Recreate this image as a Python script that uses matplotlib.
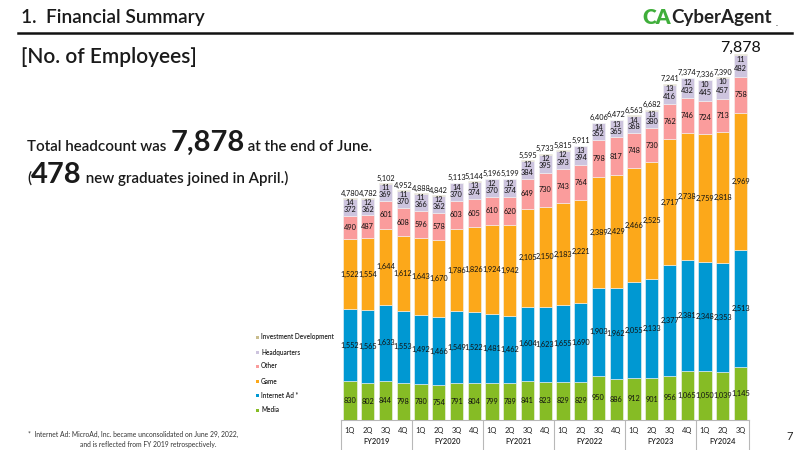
import matplotlib
matplotlib.use("Agg")
import matplotlib.pyplot as plt
import matplotlib.transforms as mtransforms
import numpy as np

plt.rcParams['font.family'] = ['Lato', 'DejaVu Sans']

quarters = ["1Q", "2Q", "3Q", "4Q"] * 5 + ["1Q", "2Q", "3Q"]
fiscal_years = ["FY2019", "FY2020", "FY2021", "FY2022", "FY2023", "FY2024"]
fy_counts = [4, 4, 4, 4, 4, 3]

media = [830, 802, 844, 798, 780, 754, 791, 804, 799, 789, 841, 823, 829, 829, 950, 886, 912, 901, 956, 1065, 1050, 1039, 1145]
internet_ad = [1552, 1565, 1633, 1553, 1492, 1466, 1549, 1522, 1481, 1462, 1604, 1623, 1655, 1690, 1903, 1962, 2055, 2133, 2377, 2381, 2348, 2353, 2513]
game = [1522, 1554, 1644, 1612, 1643, 1670, 1786, 1826, 1924, 1942, 2105, 2150, 2183, 2221, 2389, 2429, 2466, 2525, 2717, 2738, 2759, 2818, 2969]
other = [490, 487, 601, 608, 596, 578, 603, 605, 610, 620, 649, 730, 743, 764, 798, 817, 748, 730, 762, 746, 724, 713, 758]
headquarters = [372, 362, 369, 370, 366, 362, 370, 374, 370, 374, 384, 395, 393, 394, 352, 365, 368, 380, 416, 432, 445, 457, 482]
investment = [14, 12, 11, 11, 11, 12, 14, 13, 12, 12, 12, 12, 12, 13, 14, 13, 14, 13, 13, 12, 10, 10, 11]
totals = [4780, 4782, 5102, 4952, 4888, 4842, 5113, 5144, 5196, 5199, 5595, 5733, 5815, 5911, 6406, 6472, 6563, 6682, 7241, 7374, 7336, 7390, 7878]

series = [
    ("Media", media, "#86bc25"),
    ("Internet Ad\u202f*", internet_ad, "#0098d2"),
    ("Game", game, "#fca81a"),
    ("Other", other, "#fa9c9c"),
    ("Headquarters", headquarters, "#cdc4de"),
    ("Investment Development", investment, "#c9bd8e"),
]

W, H = 800, 450
fig = plt.figure(figsize=(8, 4.5), dpi=100)
fig.patch.set_facecolor("white")

def fx(px):
    return px / W

def fy(py):
    return 1 - py / H

LBL = 5.3

# ---- chart axes ----
ax_left, ax_right, ax_top, ax_bottom = 330, 760, 40, 420
ax = fig.add_axes([fx(ax_left), fy(ax_bottom), (ax_right - ax_left) / W, (ax_bottom - ax_top) / H])
n = len(totals)
x = np.arange(n)
px_per_unit = 17.75
ax.set_xlim(-(350 - ax_left) / px_per_unit, (n - 1) + (ax_right - 350 - (n - 1) * px_per_unit) / px_per_unit)
ax.set_ylim(0, 8190)
ax.axis("off")

bottom = np.zeros(n)
for name, vals, col in series:
    v = np.array(vals, dtype=float)
    ax.bar(x, v, bottom=bottom, width=0.75, color=col, edgecolor="#f4f4f4", linewidth=0.4, zorder=2)
    if name not in ("Investment Development", "Headquarters"):
        for i in range(n):
            ax.text(x[i], bottom[i] + v[i] / 2, f"{int(v[i]):,}", ha="center", va="center",
                    fontsize=LBL, color="#111111", zorder=5)
    elif name == "Headquarters":
        for i in range(n):
            ax.annotate(f"{int(v[i]):,}", (x[i], bottom[i] + v[i] / 2), xytext=(0, -1.6),
                        textcoords="offset points", ha="center", va="center",
                        fontsize=LBL, color="#111111", zorder=5)
    bottom = bottom + v

top = bottom
for i in range(n):
    ax.annotate(f"{investment[i]:,}", (x[i], top[i]), xytext=(0, -3.3), textcoords="offset points",
                ha="center", va="center", fontsize=LBL, color="#111111", zorder=5)
    if i == n - 1:
        ax.annotate(f"{totals[i]:,}", (x[i], top[i]), xytext=(0, 4.4), textcoords="offset points",
                    ha="center", va="center", fontsize=11.5, color="#111111", zorder=5)
    else:
        ax.annotate(f"{totals[i]:,}", (x[i], top[i]), xytext=(0, 3.7), textcoords="offset points",
                    ha="center", va="center", fontsize=LBL, color="#111111", zorder=5)

# ---- category axis box ----
trans = mtransforms.blended_transform_factory(ax.transData, ax.transAxes)
ax_h = ax_bottom - ax_top
def ay(py):
    return (ax_bottom - py) / ax_h

line_col = "#b8b8b8"
ax.plot([-0.5, n - 0.5], [0, 0], transform=trans, color=line_col, lw=0.8, clip_on=False, zorder=1)
edges = [-0.5]
pos = -0.5
for c in fy_counts:
    pos += c
    edges.append(pos)
for e in edges:
    ax.plot([e, e], [0, ay(452)], transform=trans, color=line_col, lw=0.8, clip_on=False)
for i, q in enumerate(quarters):
    ax.text(x[i], ay(431), q, transform=trans, ha="center", va="center", fontsize=5.4, color="#222222")
for k, fyname in enumerate(fiscal_years):
    c = (edges[k] + edges[k + 1]) / 2
    ax.text(c, ay(442), fyname, transform=trans, ha="center", va="center", fontsize=5.4,
            color="#222222", fontweight="semibold")

# ---- legend ----
legend_y = [337, 352, 366, 381, 395, 410]
legend_order = list(reversed(series))
for (name, vals, col), yy in zip(legend_order, legend_y):
    fig.patches.append(plt.Rectangle((fx(256), fy(yy) - 1.5 / H), 3 / W, 3 / H, transform=fig.transFigure,
                                     facecolor=col, edgecolor="none"))
    fig.text(fx(261), fy(yy), name, ha="left", va="center", fontsize=4.7, color="#222222",
             fontweight="semibold")

# ---- header ----
fig.text(fx(21), fy(18), "1.  Financial Summary", ha="left", va="center", fontsize=13.8,
         color="#1a1a1a", fontweight="semibold")
fig.add_artist(plt.Line2D([fx(18), fx(792)], [fy(33), fy(33)], color="#111111", lw=1.8))
fig.text(fx(21), fy(57), "[No. of Employees]", ha="left", va="center", fontsize=15,
         color="#1a1a1a", fontweight="semibold")

# logo
fig.text(fx(642), fy(18), "CA", ha="left", va="center", fontsize=15, color="#3fae3a",
         fontweight="heavy")
fig.text(fx(671), fy(18), "CyberAgent", ha="left", va="center", fontsize=13.5, color="#222222",
         fontweight="bold")
fig.text(fx(776), fy(24), ".", ha="left", va="center", fontsize=6, color="#222222")

# ---- headline text runs ----
renderer = fig.canvas.get_renderer()
def text_run(x_px, base_px, parts):
    cur = x_px
    for s, size, weight in parts:
        t = fig.text(fx(cur), fy(base_px), s, ha="left", va="baseline", fontsize=size,
                     fontweight=weight, color="#1a1a1a")
        bb = t.get_window_extent(renderer=renderer)
        cur += bb.width

text_run(27, 151, [("Total headcount was ", 10.9, "semibold"), ("7,878", 21, "bold"),
                   (" at the end of June.", 10.9, "semibold")])
text_run(27, 183, [("(", 10.9, "semibold"), ("478", 21, "bold"),
                   (" new graduates joined in April.)", 10.9, "semibold")])

# ---- footnote ----
fig.text(fx(28), fy(434), "*  Internet Ad: MicroAd, Inc. became unconsolidated on June 29, 2022,",
         ha="left", va="center", fontsize=4.9, color="#333333")
fig.text(fx(148), fy(445), "and is reflected from FY 2019 retrospectively.", ha="center",
         va="center", fontsize=4.9, color="#333333")
fig.text(fx(790), fy(437), "7", ha="center", va="center", fontsize=8, color="#222222")

fig.savefig("out.png", dpi=100)
